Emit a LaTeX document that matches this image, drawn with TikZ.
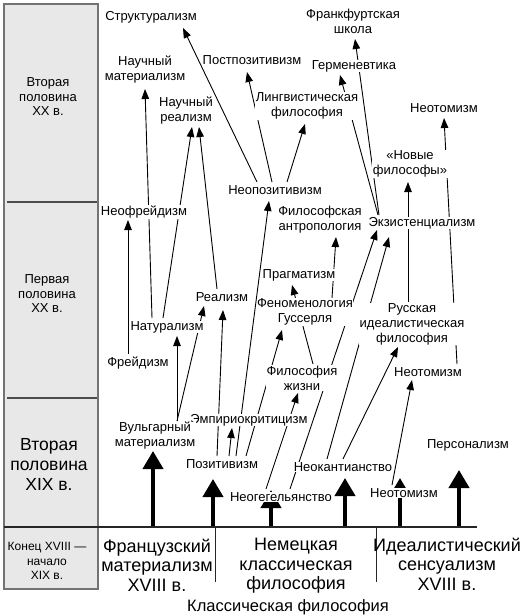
\documentclass[tikz,border=0pt]{standalone}
\usepackage{fontspec}
\setmainfont{Liberation Sans}
\usetikzlibrary{arrows.meta}
\pgfdeclarelayer{bg}
\pgfsetlayers{bg,main}

\begin{document}
\begin{tikzpicture}[x=1pt,y=-1pt,
    lbl/.style={fill=white,inner sep=0.5pt,align=center,font=\fontsize{13}{15}\selectfont},
    per/.style={align=center,font=\fontsize{13}{14.5}\selectfont},
    big/.style={align=center,font=\fontsize{18}{19.5}\selectfont},
    ln/.style={line width=0.9pt,-{Triangle[width=7.5pt,length=10pt]}},
    fat/.style={line width=4pt,-{Triangle[width=20pt,length=18pt]}}]
    \useasboundingbox (0,0) rectangle (531,615);

    % periods
    \draw[draw=black!55,fill=black!9,line width=1.4pt] (4,4) rectangle (98,589);
    \draw[black!70,line width=1.4pt] (7,202) -- (97,202);
    \draw[black!70,line width=1.4pt] (7,398) -- (97,398);
    \draw[black!85,line width=1.2pt] (4,527) -- (477,527);
    \draw[black!85,line width=1pt] (215,527) -- (215,582);
    \draw[black!85,line width=1pt] (376,527) -- (376,582);
    \node[per] (p1) at (48,97) {Вторая\\половина\\XX в.};
    \node[per] (p2) at (47,294) {Первая\\половина\\XX в.};
    \node[align=center,font=\fontsize{17.5}{20}\selectfont] (p3) at (49,464) {Вторая\\половина\\XIX в.};
    \node[align=center,font=\fontsize{12}{14.5}\selectfont] (p4) at (47,561) {Конец XVIII —\\начало\\XIX в.};

    % sources
    \node[big] (fr) at (157,565) {Французский\\материализм\\XVIII в.};
    \node[big] (de) at (296,566) {Немецкая\\классическая\\философия};
    \node[big] (id) at (447,564) {Идеалистический\\сенсуализм\\XVIII в.};
    \node[font=\fontsize{16.5}{18}\selectfont] (kl) at (288,607) {Классическая философия};

    % schools
    \node[lbl] (strukt) at (151,17) {Структурализм};
    \node[lbl] (naumat) at (145,70) {Научный\\материализм};
    \node[lbl] (postpoz) at (252,60) {Постпозитивизм};
    \node[lbl] (naureal) at (186,111) {Научный\\реализм};
    \node[lbl] (frank) at (353,21) {Франкфуртская\\школа};
    \node[lbl] (germ) at (354,66) {Герменевтика};
    \node[lbl] (ling) at (307,106) {Лингвистическая\\философия};
    \node[lbl] (neotomA) at (444,108) {Неотомизм};
    \node[lbl] (novye) at (410,164) {«Новые\\философы»};
    \node[lbl] (neopoz) at (275,190) {Неопозитивизм};
    \node[lbl] (filantr) at (320,220) {Философская\\антропология};
    \node[lbl] (ekzist) at (422,223) {Экзистенциализм};
    \node[lbl] (neofreid) at (144,212) {Неофрейдизм};
    \node[lbl] (pragm) at (299,275) {Прагматизм};
    \node[lbl] (fenom) at (305,312) {Феноменология\\Гуссерля};
    \node[lbl] (realizm) at (222,297) {Реализм};
    \node[lbl] (natur) at (167,327) {Натурализм};
    \node[lbl] (russ) at (412,324) {Русская\\идеалистическая\\философия};
    \node[lbl] (freid) at (138,363) {Фрейдизм};
    \node[lbl] (filzhiz) at (302,378) {Философия\\жизни};
    \node[lbl] (neotomB) at (428,372) {Неотомизм};
    \node[lbl] (empirio) at (249,420) {Эмпириокритицизм};
    \node[lbl] (vulgmat) at (155,436) {Вульгарный\\материализм};
    \node[lbl] (pozit) at (222,464) {Позитивизм};
    \node[lbl] (neogeg) at (281,497) {Неогегельянство};
    \node[lbl] (neokant) at (343,467) {Неокантианство};
    \node[lbl] (neotomC) at (404,493) {Неотомизм};
    \node[lbl] (person) at (468,445) {Персонализм};

    \coordinate (b1) at (153,527);
    \coordinate (b2) at (213,527);
    \coordinate (b3) at (271,527);
    \coordinate (b4) at (345,527);
    \coordinate (b5) at (400,527);
    \coordinate (b6) at (459,527);

    \begin{pgfonlayer}{bg}
    \draw[fat] (b1) -- ([shift={(-2,15)}]vulgmat.center);
    \draw[fat] (b2) -- ([shift={(-9,15)}]pozit.center);
    \draw[fat] (b3) -- ([shift={(-10,-7)}]neogeg.center);
    \draw[fat] (b4) -- ([shift={(2,11)}]neokant.center);
    \draw[fat] (b5) -- ([shift={(-4,-15)}]neotomC.center);
    \draw[fat] (b6) -- ([shift={(-9,25)}]person.center);

    \draw[ln] ([shift={(-18,-8)}]neopoz.center) -- ([shift={(32,11)}]strukt.center);
    \draw[ln] ([shift={(-3,-8)}]neopoz.center) -- ([shift={(-5,12)}]postpoz.center);
    \draw[ln] ([shift={(12,-8)}]neopoz.center) -- ([shift={(-2,18)}]ling.center);
    \draw[ln] ([shift={(-15,-9)}]natur.center) -- ([shift={(0,19)}]naumat.center);
    \draw[ln] ([shift={(-4,-9)}]natur.center) -- ([shift={(6,16)}]naureal.center);
    \draw[ln] ([shift={(-5,-8)}]realizm.center) -- ([shift={(13,16)}]naureal.center);
    \draw[ln] ([shift={(-10,-9)}]freid.center) -- ([shift={(-16,8)}]neofreid.center);
    \draw[ln] ([shift={(22,-15)}]vulgmat.center) -- ([shift={(10,9)}]natur.center);
    \draw[ln] ([shift={(22,-15)}]vulgmat.center) -- ([shift={(-18,9)}]realizm.center);
    \draw[ln] ([shift={(-5,-8)}]pozit.center) -- ([shift={(1,13)}]realizm.center);
    \draw[ln] ([shift={(7,-8)}]pozit.center) -- ([shift={(-17,8)}]empirio.center);
    \draw[ln] ([shift={(14,-8)}]pozit.center) -- ([shift={(-6,11)}]neopoz.center);
    \draw[ln] ([shift={(24,-8)}]pozit.center) -- ([shift={(-23,18)}]fenom.center);
    \draw[ln] ([shift={(-15,-8)}]neogeg.center) -- ([shift={(-4,15)}]filzhiz.center);
    \draw[ln] ([shift={(9,-8)}]neogeg.center) -- ([shift={(-45,7)}]ekzist.center);
    \draw[ln] ([shift={(-16,-8)}]neokant.center) -- ([shift={(-33,14)}]ekzist.center);
    \draw[ln] ([shift={(0,-8)}]neokant.center) -- ([shift={(-14,23)}]russ.center);
    \draw[ln] ([shift={(-12,-8)}]neotomC.center) -- ([shift={(-16,8)}]neotomB.center);
    \draw[ln] ([shift={(11,-14)}]filzhiz.center) -- ([shift={(-7,10)}]pragm.center);
    \draw[ln] ([shift={(27,-14)}]fenom.center) -- ([shift={(16,17)}]filantr.center);
    \draw[ln] ([shift={(-44,-8)}]ekzist.center) -- ([shift={(-14,9)}]germ.center);
    \draw[ln] ([shift={(-43,-8)}]ekzist.center) -- ([shift={(2,18)}]frank.center);
    \draw[ln] ([shift={(-4,-22)}]russ.center) -- ([shift={(-2,18)}]novye.center);
    \draw[ln] ([shift={(29,-8)}]neotomB.center) -- ([shift={(0,10)}]neotomA.center);
    \end{pgfonlayer}
\end{tikzpicture}
\end{document}
